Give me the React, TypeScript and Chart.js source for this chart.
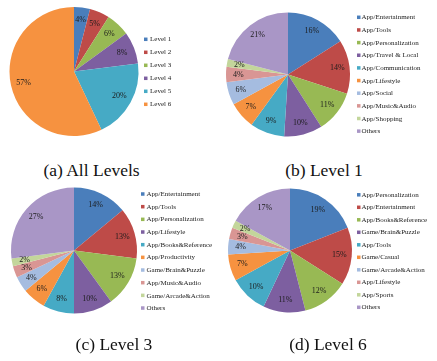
import React, { useEffect, useRef } from "react";
import { Chart, registerables } from "chart.js";

Chart.register(...registerables);

// ---------- data ----------
const allLevelsLabels = ["Level 1", "Level 2", "Level 3", "Level 4", "Level 5", "Level 6"];
const allLevelsValues = [4, 5, 6, 8, 20, 57];

const level1Labels = [
  "App/Entertainment",
  "App/Tools",
  "App/Personalization",
  "App/Travel & Local",
  "App/Communication",
  "App/Lifestyle",
  "App/Social",
  "App/Music&Audio",
  "App/Shopping",
  "Others",
];
const level1Values = [16, 14, 11, 10, 9, 7, 6, 4, 2, 21];

const level3Labels = [
  "App/Entertainment",
  "App/Tools",
  "App/Personalization",
  "App/Lifestyle",
  "App/Books&Reference",
  "App/Productivity",
  "Game/Brain&Puzzle",
  "App/Music&Audio",
  "Game/Arcade&Action",
  "Others",
];
const level3Values = [14, 13, 13, 10, 8, 6, 4, 3, 2, 27];

const level6Labels = [
  "App/Personalization",
  "App/Entertainment",
  "App/Books&Reference",
  "Game/Brain&Puzzle",
  "App/Tools",
  "Game/Casual",
  "Game/Arcade&Action",
  "App/Lifestyle",
  "App/Sports",
  "Others",
];
const level6Values = [19, 15, 12, 11, 10, 7, 4, 3, 2, 17];

const captions = ["(a) All Levels", "(b) Level 1", "(c) Level 3", "(d) Level 6"];

const sliceColors = [
  "#4A7EBB",
  "#BE4B48",
  "#98B954",
  "#7D5FA0",
  "#46AAC5",
  "#F69240",
  "#A5BCE0",
  "#D99694",
  "#C3D69B",
  "#A996C6",
];

// ---------- layout ----------
type PanelCfg = {
  labels: string[];
  values: number[];
  caption: string;
  left: number;
  top: number;
  w: number;
  h: number;
  cx: number;
  cy: number;
  r: number;
  sqX: number;
  textX: number;
  legendY0: number;
  legendStep: number;
  capX: number;
  capY: number;
};

const FONT = '"Liberation Serif", "Times New Roman", serif';

function PiePanel(p: PanelCfg) {
  const ref = useRef<HTMLCanvasElement | null>(null);

  useEffect(() => {
    if (!ref.current) return;
    const padding = {
      left: p.cx - p.left - p.r,
      top: p.cy - p.top - p.r,
      right: p.w - (p.cx - p.left + p.r),
      bottom: p.h - (p.cy - p.top + p.r),
    };

    const sliceLabels = {
      id: "sliceLabels",
      afterDatasetsDraw(chart: any) {
        const ctx = chart.ctx;
        const meta = chart.getDatasetMeta(0);
        const data = chart.data.datasets[0].data as number[];
        ctx.save();
        ctx.font = `8px ${FONT}`;
        ctx.fillStyle = "#1c1c1c";
        ctx.textAlign = "center";
        ctx.textBaseline = "middle";
        meta.data.forEach((arc: any, i: number) => {
          const { x, y, startAngle, endAngle, outerRadius } = arc.getProps(
            ["x", "y", "startAngle", "endAngle", "outerRadius"],
            true
          );
          const a = (startAngle + endAngle) / 2;
          const rr = outerRadius * 0.8;
          ctx.fillText(`${data[i]}%`, x + Math.cos(a) * rr, y + Math.sin(a) * rr);
        });
        ctx.restore();
      },
    };

    const sideLegend = {
      id: "sideLegend",
      afterDraw(chart: any) {
        const ctx = chart.ctx;
        const labels = chart.data.labels as string[];
        const colors = chart.data.datasets[0].backgroundColor as string[];
        ctx.save();
        ctx.font = `7px ${FONT}`;
        ctx.textAlign = "left";
        ctx.textBaseline = "middle";
        labels.forEach((lab, i) => {
          const y = p.legendY0 - p.top + i * p.legendStep;
          ctx.fillStyle = colors[i];
          ctx.fillRect(p.sqX - p.left, y - 1.75, 3.5, 3.5);
          ctx.fillStyle = "#222222";
          ctx.fillText(lab, p.textX - p.left, y + 0.3);
        });
        ctx.restore();
      },
    };

    const chart = new Chart(ref.current, {
      type: "pie",
      data: {
        labels: p.labels,
        datasets: [
          {
            data: p.values,
            backgroundColor: sliceColors.slice(0, p.values.length),
            borderWidth: 0,
            hoverOffset: 0,
          },
        ],
      },
      options: {
        responsive: false,
        animation: false,
        layout: { padding },
        plugins: {
          legend: { display: false },
          tooltip: { enabled: false },
        },
      },
      plugins: [sliceLabels, sideLegend],
    } as any);
    return () => chart.destroy();
  }, []);

  return (
    <>
      <canvas
        ref={ref}
        width={p.w}
        height={p.h}
        style={{ position: "absolute", left: p.left, top: p.top, width: p.w, height: p.h }}
      />
      <div
        style={{
          position: "absolute",
          left: p.capX - 100,
          top: p.capY - 10.3,
          width: 200,
          textAlign: "center",
          fontFamily: FONT,
          fontSize: 17.5,
          lineHeight: "17.5px",
          color: "#111",
          whiteSpace: "nowrap",
        }}
      >
        {p.caption}
      </div>
    </>
  );
}

const panels: PanelCfg[] = [
  {
    labels: allLevelsLabels,
    values: allLevelsValues,
    caption: captions[0],
    left: 0, top: 0, w: 218, h: 160,
    cx: 74, cy: 71.5, r: 64.5,
    sqX: 144, textX: 150, legendY0: 39.3, legendStep: 13,
    capX: 91.5, capY: 172,
  },
  {
    labels: level1Labels,
    values: level1Values,
    caption: captions[1],
    left: 218, top: 0, w: 219, h: 160,
    cx: 288, cy: 74.5, r: 62,
    sqX: 357, textX: 361.5, legendY0: 17.3, legendStep: 12.65,
    capX: 324, capY: 172,
  },
  {
    labels: level3Labels,
    values: level3Values,
    caption: captions[2],
    left: 0, top: 180, w: 218, h: 160,
    cx: 74, cy: 250.5, r: 63,
    sqX: 141, textX: 146.5, legendY0: 194, legendStep: 12.67,
    capX: 114, capY: 346,
  },
  {
    labels: level6Labels,
    values: level6Values,
    caption: captions[3],
    left: 218, top: 180, w: 219, h: 160,
    cx: 290, cy: 250.5, r: 62,
    sqX: 357, textX: 361.5, legendY0: 194.8, legendStep: 12.5,
    capX: 328, capY: 346,
  },
];

export default function App() {
  return (
    <div
      style={{
        position: "absolute",
        left: 0,
        top: 0,
        width: 437,
        height: 361,
        background: "#ffffff",
        overflow: "hidden",
      }}
    >
      {panels.map((p, i) => (
        <PiePanel key={i} {...p} />
      ))}
    </div>
  );
}
